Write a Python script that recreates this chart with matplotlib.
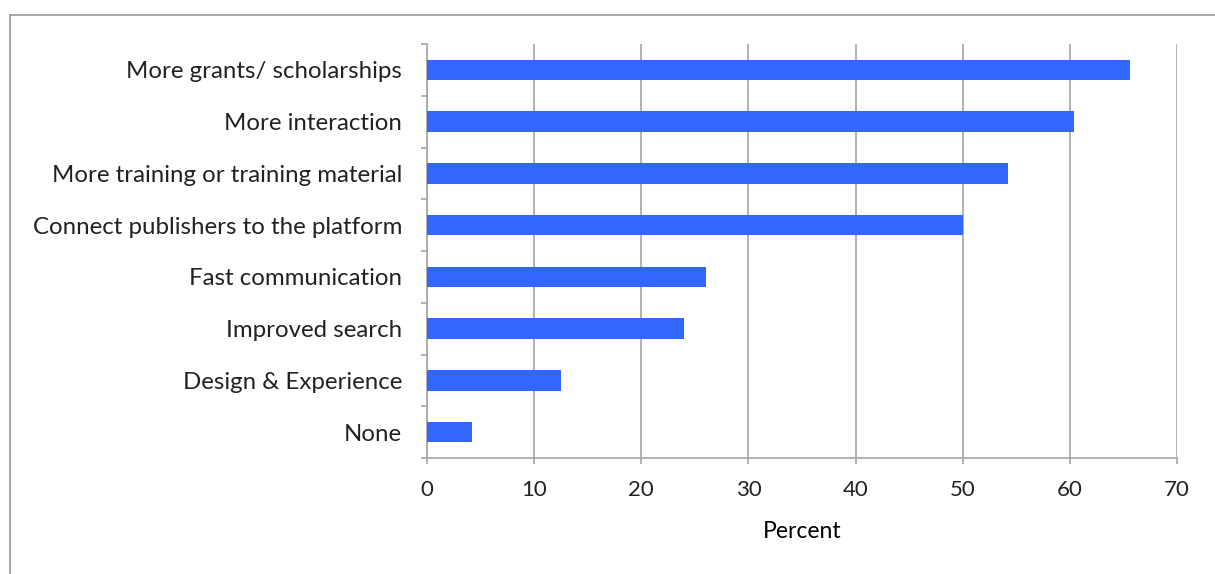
import matplotlib.pyplot as plt
from matplotlib.lines import Line2D
from matplotlib.ticker import FixedLocator

categories = ['More grants/ scholarships', 'More interaction', 'More training or training material',
              'Connect publishers to the platform', 'Fast communication', 'Improved search',
              'Design & Experience', 'None']
percent = [65.6, 60.4, 54.2, 50.0, 26.0, 24.0, 12.5, 4.2]
x_ticks = [0, 10, 20, 30, 40, 50, 60, 70]

plt.rcParams['font.family'] = ['Lato', 'DejaVu Sans']

fig = plt.figure(figsize=(12.15, 5.74), dpi=100)
W, H = 1215, 574
ax = fig.add_axes([427 / W, 1 - 458 / H, 750 / W, 414 / H])

# frame around the chart (top and left edges visible)
fig.add_artist(Line2D([10 / W, 1], [1 - 15 / H, 1 - 15 / H], color='#9a9a9a', lw=1.2))
fig.add_artist(Line2D([10 / W, 10 / W], [0, 1 - 15 / H], color='#9a9a9a', lw=1.2))

ypos = list(range(len(categories)))
ax.barh(ypos, percent, height=0.4, color='#3366FF', zorder=3)
ax.set_ylim(len(categories) - 0.5, -0.5)
ax.set_xlim(0, 70)

ax.set_xticks(x_ticks)
ax.set_xticklabels([str(t) for t in x_ticks])
ax.set_yticks(ypos)
ax.set_yticklabels(categories)
ax.yaxis.set_minor_locator(FixedLocator([i - 0.5 for i in range(len(categories) + 1)]))

ax.grid(axis='x', color='#a6a6a6', lw=1.2, zorder=0)
for s in ['top', 'right']:
    ax.spines[s].set_visible(False)
for s in ['left', 'bottom']:
    ax.spines[s].set_color('#a6a6a6')
    ax.spines[s].set_linewidth(1.2)

ax.tick_params(axis='y', which='major', length=0, pad=18, labelsize=17.3, labelcolor='#222222')
ax.tick_params(axis='y', which='minor', length=4, color='#a6a6a6', width=1.2)
ax.tick_params(axis='x', which='major', length=4, color='#a6a6a6', width=1.2, pad=12,
               labelsize=16, labelcolor='#222222')

ax.set_xlabel('Percent', fontsize=16.5, labelpad=15, color='black')

fig.savefig('out.png', dpi=100)
